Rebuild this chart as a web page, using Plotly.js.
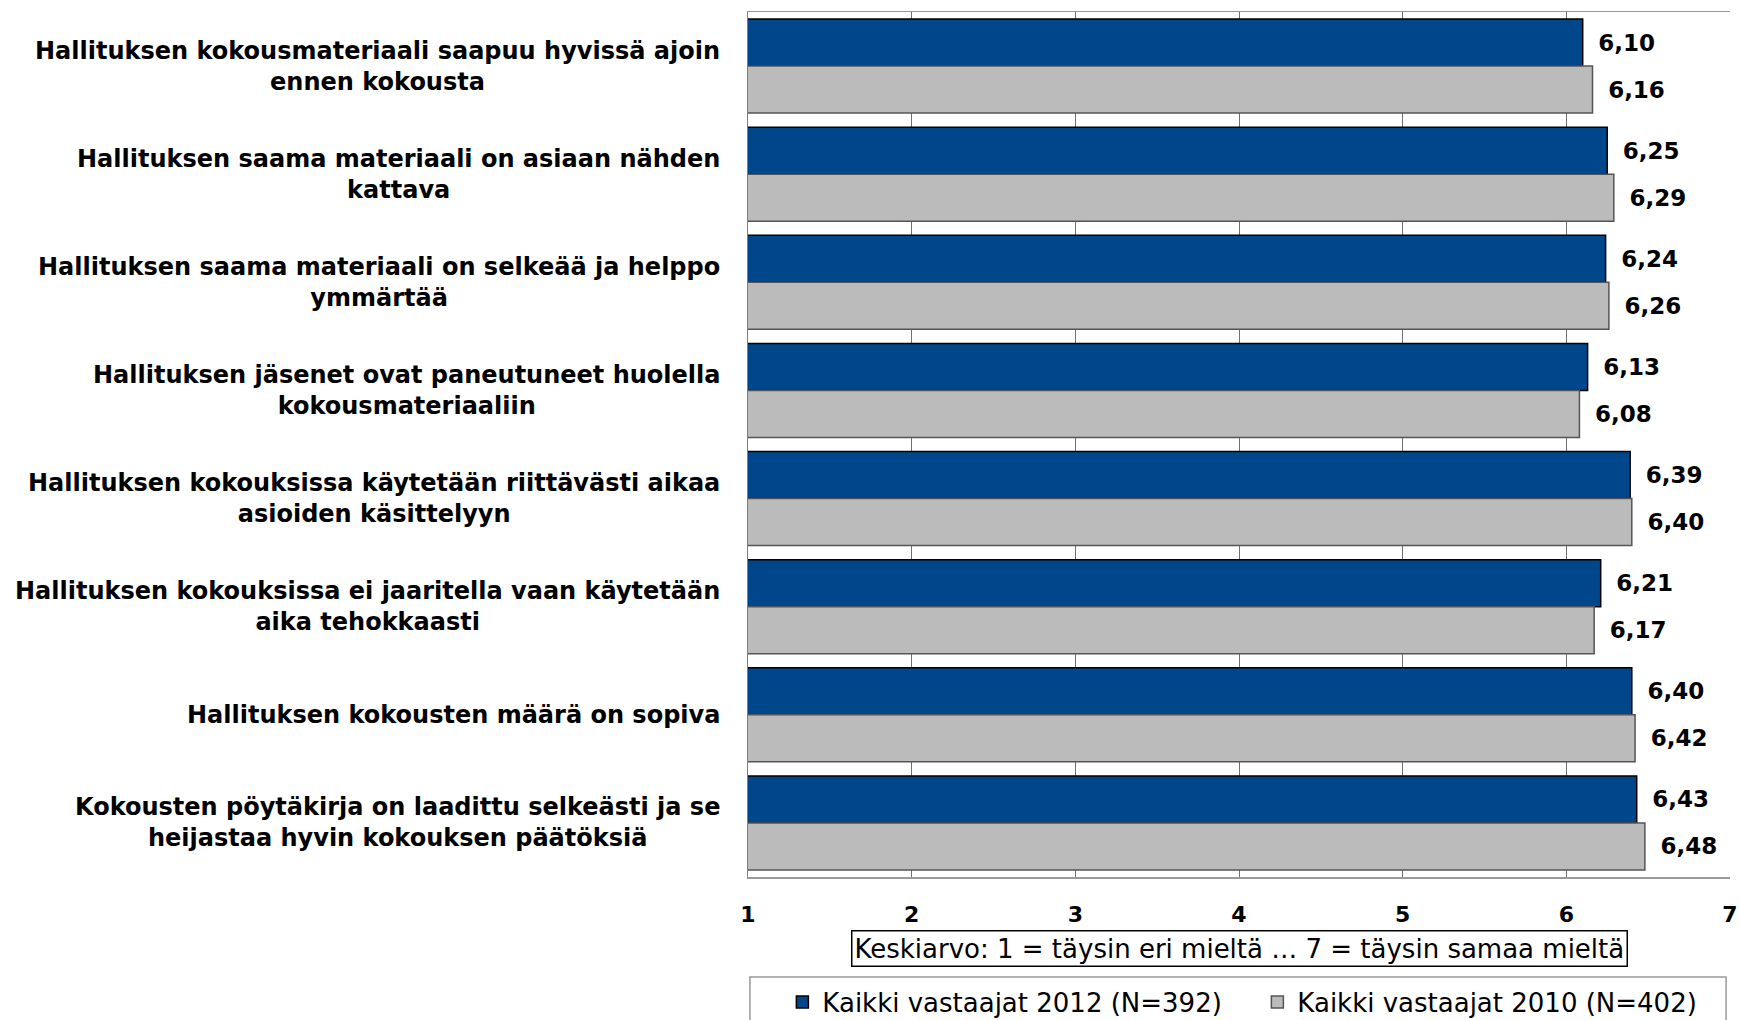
<!DOCTYPE html>
<html>
<head>
<meta charset="utf-8">
<script src="https://cdn.plot.ly/plotly-3.0.1.min.js"></script>
<style>html,body{margin:0;padding:0;background:#fff;}#chart{width:1740px;height:1020px;}</style>
</head>
<body>
<div id="chart"></div>
<script>
const categories = [
  "Hallituksen kokousmateriaali saapuu hyvissä ajoin<br>ennen kokousta",
  "Hallituksen saama materiaali on asiaan nähden<br>kattava",
  "Hallituksen saama materiaali on selkeää ja helppo<br>ymmärtää",
  "Hallituksen jäsenet ovat paneutuneet huolella<br>kokousmateriaaliin",
  "Hallituksen kokouksissa käytetään riittävästi aikaa<br>asioiden käsittelyyn",
  "Hallituksen kokouksissa ei jaaritella vaan käytetään<br>aika tehokkaasti",
  "Hallituksen kokousten määrä on sopiva",
  "Kokousten pöytäkirja on laadittu selkeästi ja se<br>heijastaa hyvin kokouksen päätöksiä"
];
const values2012 = [6.10, 6.25, 6.24, 6.13, 6.39, 6.21, 6.40, 6.43];
const values2010 = [6.16, 6.29, 6.26, 6.08, 6.40, 6.17, 6.42, 6.48];
const seriesNames = ["Kaikki vastaajat 2012 (N=392)", "Kaikki vastaajat 2010 (N=402)"];
const xTicks = [1, 2, 3, 4, 5, 6, 7];
const axisTitle = "Keskiarvo: 1 = täysin eri mieltä … 7 = täysin samaa mieltä";

const FONT = "DejaVu Sans, Liberation Sans, Arial, sans-serif";
const labelFont = {family: FONT, size: 23, color: "#000", weight: "bold"};

const traces = [
  {
    type: "bar", orientation: "h", name: seriesNames[0], legend: "legend",
    y: categories, x: values2012,
    marker: {color: "#00468B", line: {color: "#000000", width: 1.5}},
    texttemplate: "\u00a0\u2009%{x:.2f}", textposition: "outside",
    textfont: labelFont, cliponaxis: false, constraintext: "none",
    hoverinfo: "x+name"
  },
  {
    type: "bar", orientation: "h", name: seriesNames[1], legend: "legend2",
    y: categories, x: values2010,
    marker: {color: "#BBBBBB", line: {color: "#555555", width: 1.5}},
    texttemplate: "\u00a0\u2009%{x:.2f}", textposition: "outside",
    textfont: labelFont, cliponaxis: false, constraintext: "none",
    hoverinfo: "x+name"
  }
];

const annotations = categories.map(c => ({
  xref: "paper", yref: "y", x: 0, y: c, xanchor: "right", yanchor: "middle",
  xshift: -26, align: "center", showarrow: false, text: c,
  font: {family: FONT, size: 24, color: "#000", weight: "bold"}
}));
annotations.push({
  xref: "paper", yref: "paper", x: 0.501, y: -0.0832, xanchor: "center", yanchor: "middle",
  showarrow: false, text: axisTitle, bordercolor: "#000", borderwidth: 1.5, borderpad: 2,
  bgcolor: "#fff", font: {family: FONT, size: 26, color: "#000"}
});

const legendBase = {
  orientation: "h", xanchor: "left", y: -0.1445, yanchor: "middle",
  itemwidth: 30, font: {family: FONT, size: 26, color: "#000"},
  bgcolor: "rgba(0,0,0,0)", borderwidth: 0
};

const layout = {
  width: 1740, height: 1020,
  margin: {l: 748, r: 10, t: 12, b: 143, autoexpand: false},
  paper_bgcolor: "#fff", plot_bgcolor: "#fff",
  separators: ", ",
  barmode: "group", bargap: 0.13, bargroupgap: 0,
  showlegend: true,
  legend: Object.assign({}, legendBase, {x: 0.035}),
  legend2: Object.assign({}, legendBase, {x: 0.5187}),
  xaxis: {
    range: [1, 7], tickvals: xTicks, ticktext: xTicks.map(String),
    showgrid: true, gridcolor: "#707070", gridwidth: 1,
    showline: true, linecolor: "#999999", linewidth: 1.5, mirror: true,
    zeroline: false, ticks: "", ticklabelstandoff: 17,
    tickfont: {family: FONT, size: 22, color: "#000", weight: "bold"},
    fixedrange: true
  },
  yaxis: {
    type: "category", autorange: "reversed",
    showticklabels: false, showgrid: false, zeroline: false,
    showline: true, linecolor: "#808080", linewidth: 1.5,
    ticks: "", fixedrange: true
  },
  shapes: [{
    type: "rect", xref: "paper", yref: "paper",
    x0: 0.002, x1: 0.996, y0: -0.1156, y1: -0.2,
    line: {color: "#999999", width: 1.5}, fillcolor: "rgba(0,0,0,0)", layer: "below"
  }],
  annotations: annotations
};

Plotly.newPlot("chart", traces, layout, {displayModeBar: false, staticPlot: true});
</script>
</body>
</html>
